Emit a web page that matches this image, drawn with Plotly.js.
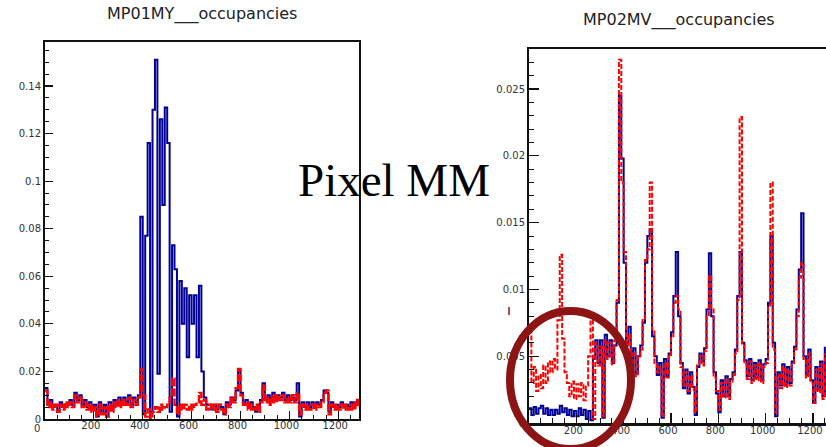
<!DOCTYPE html>
<html>
<head>
<meta charset="utf-8">
<script src="https://cdn.plot.ly/plotly-3.0.1.min.js"></script>
<style>html,body{margin:0;padding:0;background:#fff;overflow:hidden;}#chart{width:826px;height:447px;}</style>
</head>
<body>
<div id="chart"></div>
<script>
// Left panel: MP01MY___occupancies, bins of 10 channels starting at 0
const leftTitle = "MP01MY___occupancies";
const leftBlue = [
0.013,0.006,0.008,0.005,0.006,0.004,0.007,0.005,0.006,0.006,
0.008,0.006,0.011,0.008,0.010,0.006,0.008,0.005,0.007,0.004,
0.006,0.001,0.007,0.003,0.006,0.001,0.007,0.004,0.008,0.006,
0.009,0.006,0.009,0.007,0.010,0.006,0.009,0.007,
0.010,0.085,0.002,0.077,0.116,0.003,0.130,0.151,0.019,0.126,
0.090,0.131,0.116,0.003,0.073,0.063,0.001,0.058,0.040,0.055,
0.026,0.052,0.040,0.052,0.026,0.056,0.020,0.009,0.006,
0.006,0.004,0.006,
0.004,0.006,0.005,0.002,0.007,0.006,0.009,0.008,0.012,0.020,
0.011,0.007,0.008,0.005,0.007,0.005,0.003,0.006,0.008,0.015,
0.008,0.010,0.007,0.011,0.008,0.010,0.009,0.011,0.008,0.010,
0.008,0.009,0.008,0.015,0.001,0.007,0.005,0.007,0.005,0.007,
0.005,0.007,0.006,0.008,0.012,0.011,0.003,0.007,0.005,0.006,
0.005,0.007,0.005,0.006,0.005,0.007,0.005,0.007,0.006,0.006
];
const leftRed = [
0.012,0.005,0.007,0.004,0.006,0.003,0.006,0.004,0.007,0.005,
0.007,0.005,0.010,0.007,0.009,0.005,0.007,0.004,0.006,0.003,
0.005,0.001,0.006,0.002,0.005,0.001,0.006,0.003,0.007,0.005,
0.008,0.005,0.008,0.006,0.009,0.005,0.008,0.006,0.009,0.021,
0.010,0.001,0.004,0.000,0.003,0.005,0.003,0.006,0.004,0.005,
0.006,0.009,0.017,0.006,0.002,0.006,0.004,0.006,0.004,0.006,
0.004,0.006,0.007,0.011,0.006,0.008,0.004,0.006,0.004,0.006,
0.003,0.006,0.004,0.002,0.006,0.005,0.009,0.007,0.013,0.021,
0.010,0.006,0.007,0.004,0.006,0.004,0.006,0.003,0.007,0.014,
0.007,0.009,0.006,0.010,0.007,0.010,0.008,0.010,0.007,0.009,
0.007,0.010,0.007,0.011,0.002,0.006,0.004,0.006,0.004,0.006,
0.004,0.006,0.005,0.007,0.011,0.012,0.002,0.006,0.004,0.006,
0.004,0.006,0.004,0.006,0.004,0.006,0.004,0.008,0.005,0.006
];

// Right panel: MP02MV___occupancies, bins of 10 channels starting at 0
const rightTitle = "MP02MV___occupancies";
const rightBlue = [
0.0011,0.0006,0.0012,0.0007,0.0011,0.0013,0.0007,0.0011,0.0006,0.0010,
0.0006,0.0010,0.0007,0.0013,0.0008,0.0011,0.0006,0.0010,0.0005,0.0009,
0.0005,0.0011,0.0006,0.0010,0.0003,0.0009,0.0002,0.0048,0.0062,0.0045,
0.0062,0.0004,0.0066,0.0050,0.0062,0.0045,0.0058,0.0090,0.0245,0.0198,
0.0120,0.0060,0.0072,0.0042,0.0056,0.0037,0.0050,0.0058,0.0075,0.0120,
0.0140,0.0145,0.0065,0.0050,0.0036,0.0045,0.0004,0.0048,0.0035,0.0052,
0.0068,0.0095,0.0128,0.0080,0.0045,0.0026,0.0040,0.0022,0.0038,0.0027,
0.0006,0.0042,0.0052,0.0046,0.0056,0.0085,0.0127,0.0080,0.0038,0.0022,
0.0008,0.0032,0.0020,0.0035,0.0020,0.0033,0.0038,0.0055,0.0095,0.0128,
0.0060,0.0047,0.0035,0.0048,0.0032,0.0045,0.0034,0.0047,0.0032,0.0044,
0.0048,0.0090,0.0140,0.0060,0.0005,0.0038,0.0028,0.0044,0.0028,0.0042,
0.0030,0.0046,0.0057,0.0085,0.0115,0.0157,0.0050,0.0036,0.0055,0.0032,
0.0015,0.0042,0.0025,0.0046,0.0020,0.0057
];
const rightRed = [
0.0069,0.0030,0.0042,0.0024,0.0036,0.0026,0.0043,0.0030,0.0046,0.0038,
0.0048,0.0040,0.0077,0.0126,0.0063,0.0038,0.0030,0.0020,0.0031,0.0018,
0.0029,0.0020,0.0030,0.0017,0.0028,0.0050,0.0077,0.0003,0.0060,0.0043,
0.0057,0.0005,0.0062,0.0048,0.0060,0.0044,0.0062,0.0092,0.0272,0.0180,
0.0128,0.0058,0.0066,0.0043,0.0053,0.0035,0.0050,0.0055,0.0078,0.0122,
0.0130,0.0180,0.0070,0.0045,0.0038,0.0042,0.0005,0.0045,0.0034,0.0050,
0.0065,0.0090,0.0095,0.0085,0.0042,0.0028,0.0038,0.0024,0.0035,0.0025,
0.0008,0.0044,0.0050,0.0043,0.0054,0.0080,0.0110,0.0085,0.0034,0.0024,
0.0010,0.0030,0.0019,0.0033,0.0018,0.0031,0.0036,0.0052,0.0092,0.0229,
0.0058,0.0044,0.0033,0.0046,0.0030,0.0043,0.0032,0.0045,0.0030,0.0042,
0.0045,0.0088,0.0180,0.0055,0.0008,0.0036,0.0026,0.0042,0.0027,0.0040,
0.0028,0.0044,0.0055,0.0080,0.0109,0.0120,0.0048,0.0034,0.0052,0.0030,
0.0015,0.0040,0.0023,0.0044,0.0018,0.0052
];
// x tick labels (the origin "0" is drawn once, offset as in the reference)
const xTickVals = [0, 200, 400, 600, 800, 1000, 1200];
const xTickText = ['', '200', '400', '600', '800', '1000', '1200'];
const overlayText = "Pixel MM";

const W = 826, H = 447;
const px = v => v / W;
const py = v => 1 - v / H;
const BLUE = '#000099', RED = '#ff0000', DARKRED = '#8c1414';
const tickFont = {family: 'DejaVu Sans, Liberation Sans, sans-serif', size: 10, color: '#333'};

function histTrace(vals, color, dash, width, xa, ya) {
  return {type: 'scatter', mode: 'lines', x0: 0, dx: 10, y: vals,
    line: {color: color, width: width, shape: 'hv', dash: dash},
    xaxis: xa, yaxis: ya, hoverinfo: 'skip'};
}

const data = [
  histTrace(leftBlue, BLUE, 'solid', 2, 'x', 'y'),
  histTrace(leftRed, RED, '8px,2px', 2.4, 'x', 'y'),
  histTrace(rightBlue, BLUE, 'solid', 2, 'x2', 'y2'),
  histTrace(rightRed, RED, '5px,2px', 2, 'x2', 'y2')
];

function axisBase(extra) {
  return Object.assign({
    showgrid: false, zeroline: false, showline: true, linecolor: '#111',
    ticks: 'inside', tickcolor: '#111', tickfont: tickFont, fixedrange: true
  }, extra);
}

const layout = {
  width: W, height: H,
  margin: {l: 0, r: 0, t: 0, b: 0},
  paper_bgcolor: '#fff', plot_bgcolor: '#fff',
  showlegend: false,
  xaxis: axisBase({domain: [px(45), px(359)], range: [0, 1285], anchor: 'y',
    mirror: true, linewidth: 2, ticklen: 8, tickwidth: 1.2,
    tickmode: 'array', tickvals: xTickVals, ticktext: xTickText,
    ticklabelshift: -3, ticklabelstandoff: -4,
    minor: {ticks: 'inside', dtick: 50, tick0: 0, ticklen: 4, tickcolor: '#111', tickwidth: 1}}),
  yaxis: axisBase({domain: [py(419), py(42)], range: [0, 0.1585], anchor: 'x',
    mirror: true, linewidth: 2, ticklen: 8, tickwidth: 1.2, tick0: 0, dtick: 0.02,
    minor: {ticks: 'inside', dtick: 0.005, tick0: 0, ticklen: 4, tickcolor: '#111', tickwidth: 1}}),
  xaxis2: axisBase({domain: [px(529), 1], range: [0, 1255], anchor: 'y2',
    mirror: true, linewidth: 2.5, ticklen: 10, tickwidth: 1.2,
    tickmode: 'array', tickvals: xTickVals, ticktext: xTickText,
    ticklabelshift: -3, ticklabelstandoff: -4,
    minor: {ticks: 'inside', dtick: 50, tick0: 0, ticklen: 5, tickcolor: '#111', tickwidth: 1}}),
  yaxis2: axisBase({domain: [py(423), py(49)], range: [0, 0.028], anchor: 'x2',
    mirror: false, linewidth: 2, ticklen: 10, tickwidth: 1.2, tick0: 0, dtick: 0.005,
    minor: {ticks: 'inside', dtick: 0.001, tick0: 0, ticklen: 5, tickcolor: '#111', tickwidth: 1}}),
  annotations: [
    {text: leftTitle, xref: 'paper', yref: 'paper', x: px(202), y: py(14),
     xanchor: 'center', yanchor: 'middle', showarrow: false,
     font: {family: 'DejaVu Sans, Liberation Sans, sans-serif', size: 16, color: '#222'}},
    {text: rightTitle, xref: 'paper', yref: 'paper', x: px(679), y: py(20),
     xanchor: 'center', yanchor: 'middle', showarrow: false,
     font: {family: 'DejaVu Sans, Liberation Sans, sans-serif', size: 16, color: '#222'}},
    {text: '0', xref: 'paper', yref: 'paper', x: px(37), y: py(428),
     xanchor: 'center', yanchor: 'middle', showarrow: false,
     font: tickFont},
    {text: overlayText, xref: 'paper', yref: 'paper', x: px(296), y: py(180),
     xanchor: 'left', yanchor: 'middle', showarrow: false,
     font: {family: 'Liberation Serif, Times New Roman, serif', size: 47, color: '#000'}}
  ],
  shapes: [
    {type: 'circle', xref: 'paper', yref: 'paper',
     x0: px(510), x1: px(631), y0: py(449), y1: py(311),
     line: {color: DARKRED, width: 8}, layer: 'above'},
    {type: 'line', xref: 'paper', yref: 'paper',
     x0: px(509), x1: px(509), y0: py(315), y1: py(307),
     line: {color: DARKRED, width: 1.5}, layer: 'above'}
  ]
};

Plotly.newPlot('chart', data, layout, {staticPlot: true, displayModeBar: false});
</script>
</body>
</html>
